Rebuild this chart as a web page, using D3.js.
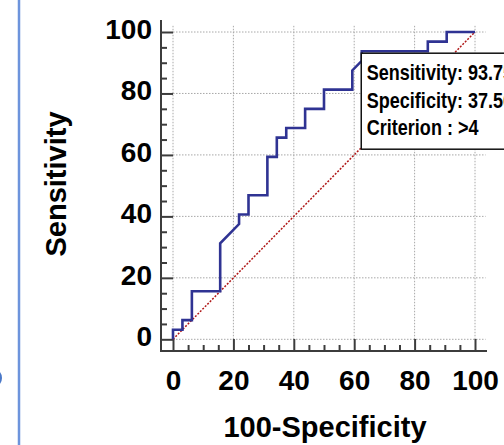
<!DOCTYPE html>
<html>
<head>
<meta charset="utf-8">
<script src="https://cdn.jsdelivr.net/npm/d3@7"></script>
<style>
  body { margin: 0; background: #fff; }
  svg { display: block; font-family: "Liberation Sans", Arial, sans-serif; }
</style>
</head>
<body>
<div id="chart"></div>
<script>
'use strict';

// ROC curve (100-Specificity vs Sensitivity), steps of 1/32
const fpr = [0, 0, 3.125, 3.125, 6.25, 6.25, 15.625, 15.625, 21.875, 21.875, 25, 25,
  31.25, 31.25, 34.375, 34.375, 37.5, 37.5, 43.75, 43.75, 50, 50, 59.375, 59.375,
  62.5, 62.5, 84.375, 84.375, 90.625, 90.625, 100];
const tpr = [0, 3.125, 3.125, 6.25, 6.25, 15.625, 15.625, 31.25, 37.5, 40.625, 40.625, 46.875,
  46.875, 59.375, 59.375, 65.625, 65.625, 68.75, 68.75, 75, 75, 81.25, 81.25, 87.5,
  90.625, 93.75, 93.75, 96.875, 96.875, 100, 100];

const majorTicks = [0, 20, 40, 60, 80, 100];
const minorTicks = [5, 10, 15, 25, 30, 35, 45, 50, 55, 65, 70, 75, 85, 90, 95];

const criterionPoint = [62.5, 93.75];
const infoLines = ['Sensitivity: 93.75', 'Specificity: 37.50', 'Criterion : >4'];

const width = 504, height = 445;

const svg = d3.select('#chart').append('svg')
  .attr('width', width)
  .attr('height', height);

const x = d3.scaleLinear().domain([0, 100]).range([173, 475]);
const y = d3.scaleLinear().domain([0, 100]).range([339.3, 32]);

const axisX = 161;   // left axis line, offset from plot
const axisY = 351;   // bottom axis line

// page decoration on the left
svg.append('line')
  .attr('x1', 19).attr('x2', 19).attr('y1', 0).attr('y2', height)
  .style('stroke', '#6d94dc').style('stroke-width', 2.5);
svg.append('ellipse')
  .attr('cx', -6).attr('cy', 378).attr('rx', 7).attr('ry', 8)
  .style('fill', 'none').style('stroke', '#4a78c8').style('stroke-width', 2);

// grid
const grid = svg.append('g').attr('class', 'grid');
grid.selectAll('line.v')
  .data(majorTicks)
  .enter().append('line')
  .attr('class', 'v')
  .attr('x1', d => x(d)).attr('x2', d => x(d))
  .attr('y1', y(0)).attr('y2', y(102));
grid.selectAll('line.h')
  .data(majorTicks)
  .enter().append('line')
  .attr('class', 'h')
  .attr('x1', x(0)).attr('x2', x(103.5))
  .attr('y1', d => y(d)).attr('y2', d => y(d));
grid.selectAll('line')
  .style('stroke', '#a8a8a8')
  .style('stroke-width', 1)
  .style('stroke-dasharray', '1.5,1.5');

// axes lines + ticks (ticks point inward)
const axisColor = '#3c3c3c';

const yTicks = svg.append('g').attr('transform', `translate(${axisX},0)`);
yTicks.append('g').call(d3.axisRight(y).tickValues(majorTicks).tickSize(12).tickFormat(''));
yTicks.append('g').call(d3.axisRight(y).tickValues(minorTicks).tickSize(6).tickFormat(''));
yTicks.selectAll('.domain').remove();
yTicks.append('line')
  .attr('x1', 0).attr('x2', 0).attr('y1', 20).attr('y2', axisY + 1);

const xTicks = svg.append('g').attr('transform', `translate(0,${axisY})`);
xTicks.append('g').call(d3.axisTop(x).tickValues(majorTicks).tickSize(12).tickFormat(''));
xTicks.append('g').call(d3.axisTop(x).tickValues(minorTicks).tickSize(6).tickFormat(''));
xTicks.selectAll('.domain').remove();
xTicks.append('line')
  .attr('x1', axisX - 1).attr('x2', 487).attr('y1', 0).attr('y2', 0);

svg.selectAll('g line, g .tick line')
  .filter(function() { return !this.closest('.grid'); })
  .style('stroke', axisColor)
  .style('stroke-width', 2);

// tick labels
const yLabels = svg.append('g')
  .attr('transform', `translate(${axisX},0)`)
  .call(d3.axisLeft(y).tickValues(majorTicks).tickSize(0).tickPadding(9).tickFormat(d3.format('d')));
yLabels.select('.domain').remove();
yLabels.selectAll('text').attr('dy', '0.22em');

const xLabels = svg.append('g')
  .attr('transform', `translate(0,${axisY})`)
  .call(d3.axisBottom(x).tickValues(majorTicks).tickSize(0).tickPadding(19).tickFormat(d3.format('d')));
xLabels.select('.domain').remove();

svg.selectAll('.tick text')
  .style('font-family', '"Liberation Sans", Arial, sans-serif')
  .style('font-size', '28px')
  .style('font-weight', 'bold')
  .style('fill', '#000');

// axis titles
svg.append('text')
  .attr('transform', 'translate(66,184) rotate(-90)')
  .attr('text-anchor', 'middle')
  .style('font-size', '29px').style('font-weight', 'bold').style('fill', '#000')
  .text('Sensitivity');

svg.append('text')
  .attr('x', 325).attr('y', 437)
  .attr('text-anchor', 'middle')
  .style('font-size', '29px').style('font-weight', 'bold').style('fill', '#000')
  .text('100-Specificity');

// reference diagonal
svg.append('line')
  .attr('x1', x(0)).attr('y1', y(0))
  .attr('x2', x(100)).attr('y2', y(100))
  .style('stroke', '#b01818')
  .style('stroke-width', 1.5)
  .style('stroke-dasharray', '2,1.5');

// ROC curve
const rocLine = d3.line()
  .x(d => x(d[0]))
  .y(d => y(d[1]));

svg.append('path')
  .datum(d3.zip(fpr, tpr))
  .attr('d', rocLine)
  .style('fill', 'none')
  .style('stroke', '#2f3393')
  .style('stroke-width', 2.6)
  .style('stroke-linejoin', 'miter');

// info box at the criterion point (runs off the right edge, as in the original)
const bx = x(criterionPoint[0]) - 0.5;
const by = y(criterionPoint[1]) + 2;
svg.append('rect')
  .attr('x', bx).attr('y', by)
  .attr('width', 220).attr('height', 96)
  .style('fill', '#fff')
  .style('stroke', '#111')
  .style('stroke-width', 1.5);

const info = svg.append('g')
  .attr('transform', `translate(${bx + 5.5},0) scale(0.82,1)`);
info.selectAll('text')
  .data(infoLines)
  .enter().append('text')
  .attr('x', 0)
  .attr('y', (d, i) => by + 27 + i * 27.6)
  .style('font-size', '22px')
  .style('font-weight', 'bold')
  .style('fill', '#000')
  .text(d => d);
</script>
</body>
</html>
